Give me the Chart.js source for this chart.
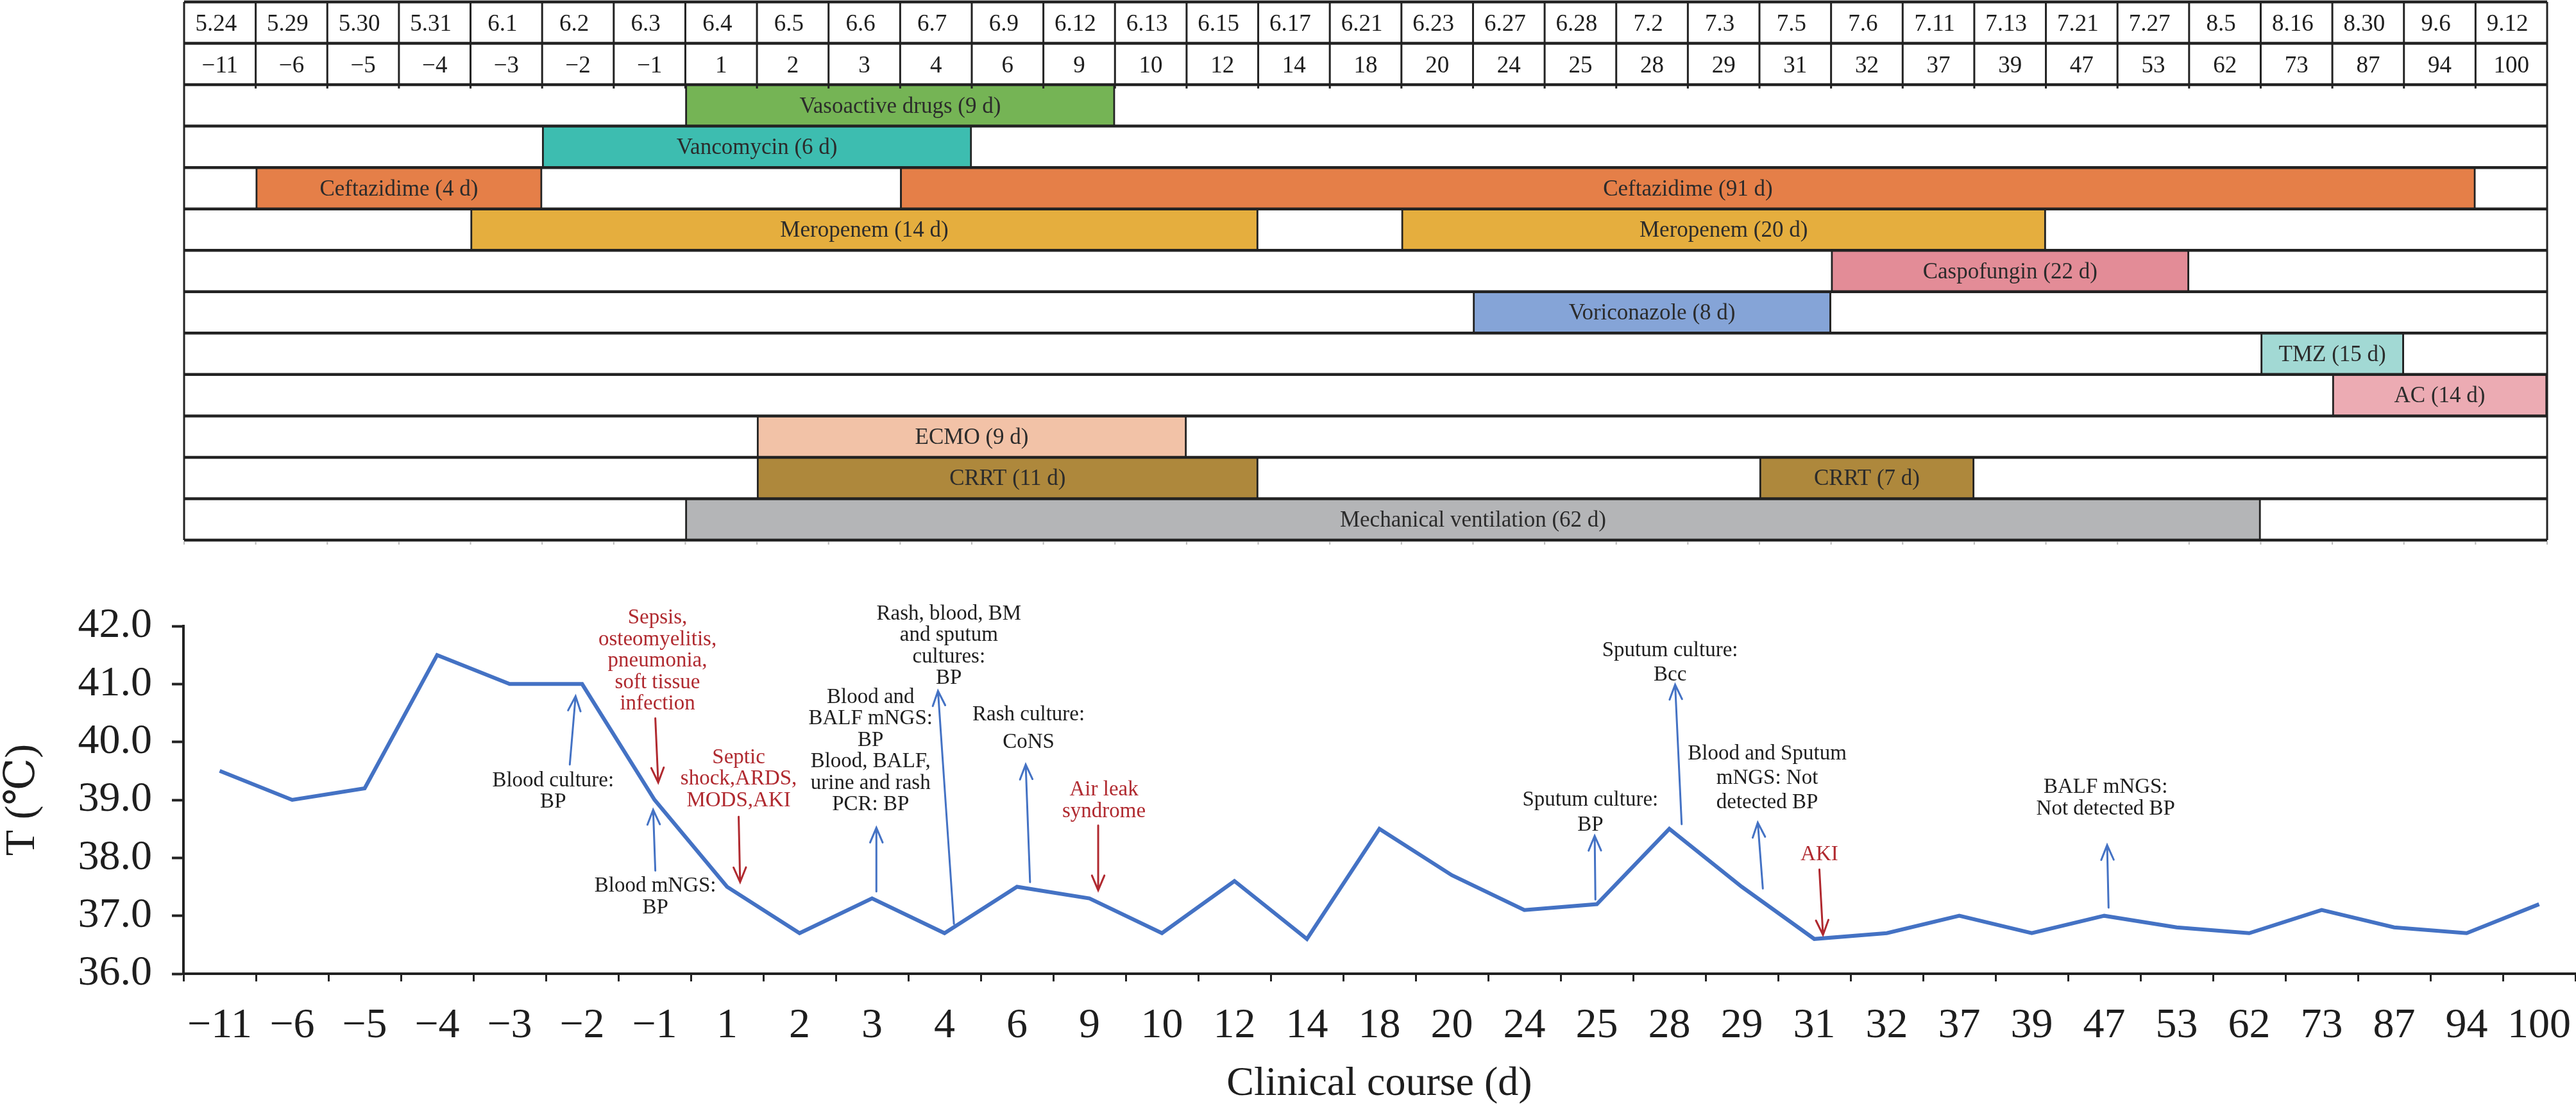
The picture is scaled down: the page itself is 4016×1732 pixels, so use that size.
<!DOCTYPE html>
<html>
<head>
<meta charset="utf-8">
<title>Clinical course</title>
<script src="https://cdn.jsdelivr.net/npm/chart.js@4.4.1/dist/chart.umd.min.js"></script>
<style>
  html, body { margin: 0; padding: 0; background: #fff; }
  #page { position: relative; width: 4016px; height: 1732px; overflow: hidden; background: #fff; }
  #ganttBox { position: absolute; left: 280px; top: 0; width: 3700px; height: 850px; }
  #tempBox { position: absolute; left: 0; top: 860px; width: 4016px; height: 872px; }
</style>
</head>
<body>
<div id="page">
  <div id="ganttBox"><canvas id="gantt"></canvas></div>
  <div id="tempBox"><canvas id="temp"></canvas></div>
</div>
<script>
// header rows of the table
const dates = ["5.24", "5.29", "5.30", "5.31", "6.1", "6.2", "6.3", "6.4", "6.5", "6.6", "6.7",
  "6.9", "6.12", "6.13", "6.15", "6.17", "6.21", "6.23", "6.27", "6.28", "7.2", "7.3", "7.5",
  "7.6", "7.11", "7.13", "7.21", "7.27", "8.5", "8.16", "8.30", "9.6", "9.12"];
const days = ["−11", "−6", "−5", "−4", "−3", "−2", "−1", "1", "2", "3", "4", "6", "9", "10",
  "12", "14", "18", "20", "24", "25", "28", "29", "31", "32", "37", "39", "47", "53", "62",
  "73", "87", "94", "100"];

// body temperature per day
const temps = [39.5, 39.0, 39.2, 41.5, 41.0, 41.0, 39.0, 37.5, 36.7, 37.3, 36.7, 37.5, 37.3,
  36.7, 37.6, 36.6, 38.5, 37.7, 37.1, 37.2, 38.5, 37.5, 36.6, 36.7, 37.0, 36.7, 37.0, 36.8,
  36.7, 37.1, 36.8, 36.7, 37.2];

// treatment rows, top to bottom
const therapies = ["Vasoactive drugs", "Vancomycin", "Ceftazidime", "Meropenem", "Caspofungin",
  "Voriconazole", "TMZ", "AC", "ECMO", "CRRT", "Mechanical ventilation"];

// one entry per bar: row, first column, column after the last one, duration in days
const barRow  = [0, 1, 2, 2, 3, 3, 4, 5, 6, 7, 8, 9, 9, 10];
const barFrom = [7, 5, 1, 10, 4, 17, 23, 18, 29, 30, 8, 8, 22, 7];
const barTo   = [13, 11, 5, 32, 15, 26, 28, 23, 31, 33, 14, 15, 25, 29];
const barDays = [9, 6, 4, 91, 14, 20, 22, 8, 15, 14, 9, 11, 7, 62];

// findings (test) and complications (event) written over the temperature curve
// at / from / to are [day column, temperature]
const notes = [
  { kind: "test", text: ["Blood culture:", "BP"], at: [4.60, 39.33], from: [4.83, 39.61], to: [4.91, 40.79] },
  { kind: "event", text: ["Sepsis,", "osteomyelitis,", "pneumonia,", "soft tissue", "infection"], at: [6.04, 42.14], from: [6.01, 40.41], to: [6.05, 39.30] },
  { kind: "test", text: ["Blood mNGS:", "BP"], at: [6.01, 37.51], from: [6.01, 37.78], to: [5.98, 38.83] },
  { kind: "event", text: ["Septic", "shock,ARDS,", "MODS,AKI"], at: [7.16, 39.73], from: [7.16, 38.71], to: [7.18, 37.58] },
  { kind: "test", text: ["Blood and", "BALF mNGS:", "BP", "Blood, BALF,", "urine and rash", "PCR: BP"], at: [8.98, 40.77], from: [9.06, 37.42], to: [9.06, 38.52] },
  { kind: "test", text: ["Rash, blood, BM", "and sputum", "cultures:", "BP"], at: [10.06, 42.21], from: [10.13, 36.86], to: [9.91, 40.88] },
  { kind: "test", text: ["Rash culture:", "CoNS"], at: [11.16, 40.47], gap: 43, from: [11.18, 37.58], to: [11.12, 39.61] },
  { kind: "event", text: ["Air leak", "syndrome"], at: [12.20, 39.17], from: [12.12, 38.56], to: [12.12, 37.44] },
  { kind: "test", text: ["Sputum culture:", "BP"], at: [18.91, 39.00], gap: 39, from: [18.98, 37.28], to: [18.97, 38.38] },
  { kind: "test", text: ["Sputum culture:", "Bcc"], at: [20.01, 41.58], gap: 38, from: [20.17, 38.58], to: [20.08, 40.99] },
  { kind: "test", text: ["Blood and Sputum", "mNGS: Not", "detected BP"], at: [21.35, 39.79], gap: 38, from: [21.29, 37.47], to: [21.22, 38.61] },
  { kind: "event", text: ["AKI"], at: [22.07, 38.06], from: [22.07, 37.80], to: [22.12, 36.67] },
  { kind: "test", text: ["BALF mNGS:", "Not detected BP"], at: [26.02, 39.22], gap: 34, from: [26.06, 37.14], to: [26.04, 38.22] }
];

// styles
const SERIF = '"Liberation Serif", "Times New Roman", "DejaVu Serif", serif';
const INK = "#1e1e1e";
const RED = "#b0292f";
const BLUE = "#4472c4";
const rowColors = ["#75b455", "#3dbdb0", "#e57f48", "#e5ae3e", "#e38c97", "#85a4d7",
  "#a2d9d4", "#ecabb3", "#f2c2a7", "#ae883c", "#b4b5b7"];

Chart.defaults.font.family = SERIF;
Chart.defaults.color = INK;

const rowKeys = ["date", "day"].concat(therapies);

// grid, header cells and bar labels of the treatment table
const tablePlugin = {
  id: "table",
  afterDatasetsDraw(chart) {
    const { ctx, chartArea: a, scales: { x, y } } = chart;
    const rowEdge = (r) => y.getPixelForValue(r - 0.5);
    ctx.save();
    ctx.fillStyle = INK;
    ctx.textAlign = "center";
    ctx.textBaseline = "middle";

    ctx.font = "37px " + SERIF;
    dates.forEach((d, i) => ctx.fillText(d, x.getPixelForValue(i + 0.5) - 6, y.getPixelForValue(0) + 3));
    days.forEach((d, i) => ctx.fillText(d, x.getPixelForValue(i + 0.5), y.getPixelForValue(1) + 3));

    ctx.font = "35px " + SERIF;
    ctx.fillStyle = "#2b2b2b";
    chart.getDatasetMeta(0).data.forEach((bar, i) => {
      const label = therapies[barRow[i]] + " (" + barDays[i] + " d)";
      ctx.fillText(label, (bar.x + bar.base) / 2, bar.y + 2);
    });

    ctx.strokeStyle = "#222";
    ctx.lineWidth = 3;
    ctx.beginPath();
    for (let k = 1; k < dates.length; k++) {
      const px = x.getPixelForValue(k);
      ctx.moveTo(px, a.top);
      ctx.lineTo(px, rowEdge(2) + 6);
    }
    ctx.moveTo(a.left, a.top);
    ctx.lineTo(a.left, a.bottom);
    ctx.moveTo(a.right, a.top);
    ctx.lineTo(a.right, a.bottom);
    ctx.stroke();

    ctx.lineWidth = 4.5;
    ctx.beginPath();
    for (let r = 0; r <= rowKeys.length; r++) {
      const py = rowEdge(r);
      ctx.moveTo(a.left, py);
      ctx.lineTo(a.right, py);
    }
    ctx.stroke();

    ctx.strokeStyle = "#bbb";
    ctx.lineWidth = 2;
    ctx.beginPath();
    for (let k = 0; k <= dates.length; k++) {
      const px = x.getPixelForValue(k);
      ctx.moveTo(px, a.bottom + 2);
      ctx.lineTo(px, a.bottom + 7);
    }
    ctx.stroke();
    ctx.restore();
  }
};

function arrow(ctx, x0, y0, x1, y1, color) {
  const ang = Math.atan2(y1 - y0, x1 - x0);
  const len = 25, spread = 0.4;
  ctx.strokeStyle = color;
  ctx.lineWidth = 3;
  ctx.lineCap = "round";
  ctx.beginPath();
  ctx.moveTo(x0, y0);
  ctx.lineTo(x1, y1);
  ctx.moveTo(x1 - len * Math.cos(ang - spread), y1 - len * Math.sin(ang - spread));
  ctx.lineTo(x1, y1);
  ctx.lineTo(x1 - len * Math.cos(ang + spread), y1 - len * Math.sin(ang + spread));
  ctx.stroke();
}

const notePlugin = {
  id: "notes",
  afterDatasetsDraw(chart) {
    const { ctx, scales: { x, y } } = chart;
    ctx.save();
    ctx.font = "33px " + SERIF;
    ctx.textAlign = "center";
    ctx.textBaseline = "middle";
    notes.forEach((n) => {
      const red = n.kind === "event";
      ctx.fillStyle = red ? RED : INK;
      const px = x.getPixelForValue(n.at[0]);
      const py = y.getPixelForValue(n.at[1]);
      n.text.forEach((t, k) => ctx.fillText(t, px, py + k * (n.gap || 33.5)));
      arrow(ctx,
        x.getPixelForValue(n.from[0]), y.getPixelForValue(n.from[1]),
        x.getPixelForValue(n.to[0]), y.getPixelForValue(n.to[1]),
        red ? RED : BLUE);
    });
    ctx.restore();
  }
};

new Chart(document.getElementById("gantt"), {
  type: "bar",
  data: {
    labels: rowKeys,
    datasets: [{
      data: barRow.map((r, i) => ({ y: therapies[r], x: [barFrom[i], barTo[i]] })),
      backgroundColor: barRow.map((r) => rowColors[r]),
      borderColor: "#222",
      borderWidth: { left: 3, right: 3, top: 0, bottom: 0 },
      borderSkipped: false,
      barPercentage: 1,
      categoryPercentage: 1
    }]
  },
  options: {
    indexAxis: "y",
    responsive: true,
    maintainAspectRatio: false,
    animation: false,
    layout: { padding: { left: 7, right: 9, top: 3, bottom: 8 } },
    scales: {
      x: { type: "linear", min: 0, max: dates.length, display: false },
      y: { type: "category", display: false }
    },
    plugins: { legend: { display: false }, tooltip: { enabled: false } }
  },
  plugins: [tablePlugin]
});

new Chart(document.getElementById("temp"), {
  type: "line",
  data: {
    labels: days,
    datasets: [{
      data: temps,
      borderColor: BLUE,
      borderWidth: 6,
      borderJoinStyle: "miter",
      pointRadius: 0,
      tension: 0,
      fill: false
    }]
  },
  options: {
    responsive: true,
    maintainAspectRatio: false,
    animation: false,
    layout: { padding: { top: 116, right: 1, left: 0, bottom: 0 } },
    scales: {
      x: {
        offset: true,
        grid: { offset: true, drawOnChartArea: false, drawTicks: true, tickLength: 12, tickWidth: 3, tickColor: "#222" },
        border: { color: "#222", width: 4 },
        ticks: { font: { size: 66 }, color: INK, padding: 30, maxRotation: 0, minRotation: 0, autoSkip: false },
        title: {
          display: true,
          text: "Clinical course (d)",
          font: { size: 64, lineHeight: 1 },
          color: INK,
          padding: { top: 0, bottom: 10 }
        },
        afterFit: (s) => { s.height = 214; s.paddingLeft = 0; s.paddingRight = 0; }
      },
      y: {
        min: 36,
        max: 42,
        grid: { drawOnChartArea: false, drawTicks: true, tickLength: 18, tickWidth: 4, tickColor: "#222" },
        border: { color: "#222", width: 4 },
        ticks: { stepSize: 1, font: { size: 66 }, color: INK, padding: 31, callback: (v) => v.toFixed(1) },
        title: {
          display: true,
          text: "T (℃)",
          font: { size: 66, lineHeight: 1 },
          color: INK,
          padding: { top: 3, bottom: 0 }
        },
        afterFit: (s) => { s.width = 286; }
      }
    },
    plugins: { legend: { display: false }, tooltip: { enabled: false } }
  },
  plugins: [notePlugin]
});
</script>
</body>
</html>
